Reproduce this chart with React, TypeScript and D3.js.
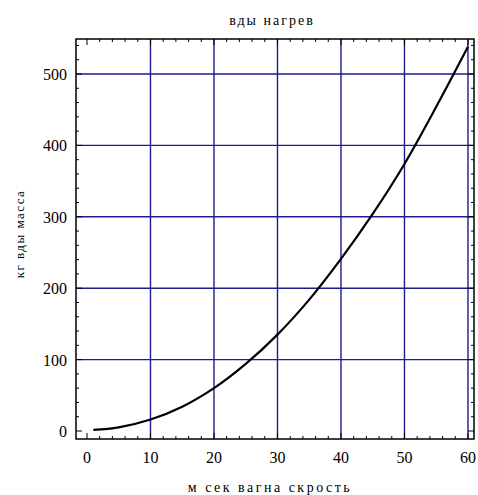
import React, { useEffect, useRef } from 'react';
import * as d3 from 'd3';

// speed (x) vs mass (y)
const speeds = [1, 5, 10, 15, 20, 25, 30, 35, 40, 45, 50, 55, 60];
const masses = [1.5, 5, 16, 34, 60, 94, 135, 184, 241, 304, 374, 454, 538];
const xTicks = [0, 10, 20, 30, 40, 50, 60];
const yTicks = [0, 100, 200, 300, 400, 500];
const title = 'вды нагрев';
const xTitle = 'м сек вагна скрость';
const yTitle = 'кг вды масса';

const App = () => {
  const svgRef = useRef<SVGSVGElement | null>(null);

  useEffect(() => {
    if (!svgRef.current) return;
    const svg = d3.select(svgRef.current);
    svg.selectAll('*').remove();

    const width = 478;
    const height = 495;
    const frame = { left: 76, right: 474, top: 39, bottom: 439 };
    const grid = '#1c1c8c';
    const font = '"Liberation Serif", "Times New Roman", serif';

    const x = d3.scaleLinear().domain([-1.73, 60.95]).range([frame.left, frame.right]);
    const y = d3.scaleLinear().domain([-11.2, 549]).range([frame.bottom, frame.top]);

    svg.attr('width', width).attr('height', height);

    // grid lines
    xTicks.filter(t => t > 0).forEach(t => {
      svg.append('line')
        .attr('x1', x(t)).attr('x2', x(t))
        .attr('y1', frame.top).attr('y2', frame.bottom)
        .attr('stroke', grid).attr('stroke-width', 1.4);
    });
    yTicks.filter(t => t > 0).forEach(t => {
      svg.append('line')
        .attr('x1', frame.left).attr('x2', frame.right)
        .attr('y1', y(t)).attr('y2', y(t))
        .attr('stroke', grid).attr('stroke-width', 1.4);
    });

    // minor + major ticks on all four sides
    const xMinor = d3.range(0, 61, 2);
    const yMinor = d3.range(0, 541, 20);
    xMinor.forEach(t => {
      const len = t % 10 === 0 ? 6 : 3;
      svg.append('line').attr('x1', x(t)).attr('x2', x(t))
        .attr('y1', frame.bottom).attr('y2', frame.bottom - len)
        .attr('stroke', '#000');
      svg.append('line').attr('x1', x(t)).attr('x2', x(t))
        .attr('y1', frame.top).attr('y2', frame.top + len)
        .attr('stroke', '#000');
    });
    yMinor.forEach(t => {
      const len = t % 100 === 0 ? 6 : 3;
      svg.append('line').attr('x1', frame.left).attr('x2', frame.left + len)
        .attr('y1', y(t)).attr('y2', y(t))
        .attr('stroke', '#000');
      svg.append('line').attr('x1', frame.right).attr('x2', frame.right - len)
        .attr('y1', y(t)).attr('y2', y(t))
        .attr('stroke', '#000');
    });

    // frame
    svg.append('rect')
      .attr('x', frame.left).attr('y', frame.top)
      .attr('width', frame.right - frame.left).attr('height', frame.bottom - frame.top)
      .attr('fill', 'none').attr('stroke', '#000').attr('stroke-width', 1.5);

    // curve
    const line = d3.line<number>()
      .x((_, i) => x(speeds[i]))
      .y(d => y(d))
      .curve(d3.curveCatmullRom);
    svg.append('path')
      .datum(masses)
      .attr('d', line)
      .attr('fill', 'none')
      .attr('stroke', '#000')
      .attr('stroke-width', 2.2);

    // tick labels
    xTicks.forEach(t => {
      svg.append('text')
        .attr('x', x(t)).attr('y', 463)
        .attr('text-anchor', 'middle')
        .attr('font-family', font).attr('font-size', '16px')
        .attr('fill', '#000')
        .text(t);
    });
    yTicks.forEach(t => {
      svg.append('text')
        .attr('x', 67).attr('y', y(t) + 6)
        .attr('text-anchor', 'end')
        .attr('font-family', font).attr('font-size', '16px')
        .attr('fill', '#000')
        .text(t);
    });

    // titles
    svg.append('text')
      .attr('x', 272).attr('y', 25)
      .attr('text-anchor', 'middle')
      .attr('font-family', font).attr('font-size', '14px')
      .attr('letter-spacing', '2px')
      .attr('fill', '#000')
      .text(title);
    svg.append('text')
      .attr('x', 270).attr('y', 492)
      .attr('text-anchor', 'middle')
      .attr('font-family', font).attr('font-size', '14px')
      .attr('letter-spacing', '2.5px')
      .attr('fill', '#000')
      .text(xTitle);
    svg.append('text')
      .attr('transform', 'translate(24, 234) rotate(-90)')
      .attr('text-anchor', 'middle')
      .attr('font-family', font).attr('font-size', '13px')
      .attr('letter-spacing', '1.5px')
      .attr('fill', '#000')
      .text(yTitle);
  }, []);

  return (
    <svg ref={svgRef} style={{ position: 'absolute', left: 0, top: 0, background: '#fff' }}></svg>
  );
};

export default App;
